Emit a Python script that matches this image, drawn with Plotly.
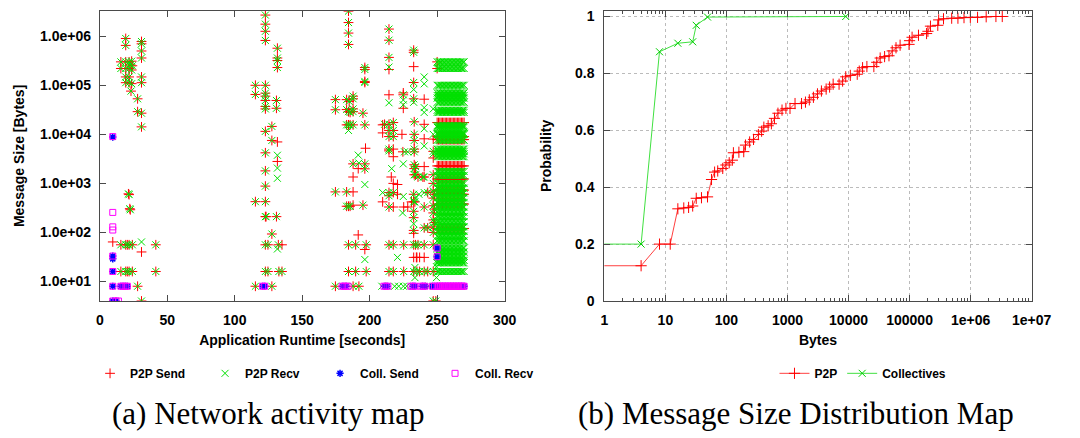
import math
import plotly.graph_objects as go

# ---------------- data : (a) network activity map ----------------
# (time [s], message size [bytes]) pairs seen for both P2P send and P2P recv
p2p_common_points = [
    (19.2, 9.0e5), (19.2, 6.5e5), (30.9, 7.8e5), (30.9, 7.0e5), (30.9, 5.0e5), (30.9, 3.6e5),
    (15.6, 3.0e5), (19.2, 3.0e5), (21.7, 3.0e5), (23.6, 3.1e5), (22.5, 2.6e5), (24.1, 2.5e5),
    (15.6, 2.2e5), (19.2, 2.2e5), (21.7, 2.2e5), (23.6, 2.05e5),
    (19.2, 1.48e5), (21.7, 1.48e5), (30.9, 1.48e5), (19.2, 1.13e5), (21.7, 1.13e5), (23.6, 1.08e5),
    (30.9, 1.13e5), (23.1, 7.6e4), (28.0, 5.3e4), (28.0, 2.9e4), (30.9, 2.7e4), (30.9, 1.42e4),
    (21.2, 612), (21.7, 590), (22.2, 305), (22.6, 290),
    (15.6, 56), (19.2, 56), (20.4, 56), (21.7, 56), (24.1, 56), (41.5, 56),
    (15.6, 16), (19.2, 16), (20.4, 16), (21.7, 16), (24.1, 16), (41.5, 16),
    (28.0, 8), (30.9, 4),
    (122.7, 2.7e6), (122.7, 1.76e6), (122.7, 1.26e6), (122.7, 8.2e5), (131.6, 5.7e5), (131.6, 3.6e5),
    (131.6, 3.2e5), (131.6, 2.3e5), (115.3, 1.0e5), (115.3, 6.5e4), (122.7, 1.0e5), (122.7, 6.9e4),
    (122.7, 6.0e4), (122.7, 4.9e4), (122.7, 3.7e4), (122.7, 3.3e4), (130.9, 4.9e4), (130.9, 3.4e4),
    (127.5, 1.45e4), (122.7, 1.15e4), (127.5, 7.5e3), (122.7, 4.2e3), (122.7, 1.8e3), (122.7, 880),
    (115.3, 424), (122.7, 424), (122.7, 210), (123.2, 210), (130.9, 210), (127.5, 93),
    (122.7, 56), (124.6, 56), (132.3, 56), (122.7, 16), (124.6, 16), (132.7, 16), (135.0, 16),
    (115.3, 8), (127.5, 8),
    (184.3, 3.25e6), (184.3, 1.9e6), (184.3, 1.16e6), (184.3, 6.8e5), (196.4, 2.1e5), (196.4, 2.3e5),
    (196.4, 1.14e5), (196.4, 1.2e5), (174.6, 5.1e4), (174.6, 3.17e4), (182.9, 5.1e4), (184.8, 4.7e4),
    (187.7, 6.0e4), (187.7, 5.3e4), (182.9, 3.2e4), (184.3, 2.9e4), (185.5, 2.8e4), (187.7, 3.3e4),
    (187.7, 2.9e4), (182.9, 1.56e4), (184.3, 1.56e4), (185.5, 1.56e4), (187.7, 1.56e4), (195.0, 2.7e4),
    (196.4, 1.56e4), (187.7, 2.5e3), (196.4, 2.5e3), (196.4, 1.98e3), (174.6, 671), (182.9, 671),
    (182.9, 342), (184.3, 342), (185.5, 342), (195.0, 360),
    (184.3, 56), (189.6, 56), (197.4, 56), (184.3, 16), (189.6, 16), (197.4, 16),
    (174.6, 8), (187.7, 8), (192.0, 8),
    (214.3, 1.4e6), (214.3, 8.3e5), (214.3, 3.7e5), (232.6, 4.7e5), (232.6, 5.2e5), (232.6, 1.14e5),
    (232.6, 5.3e4), (224.9, 6.4e4), (211.0, 1.6e4), (214.3, 1.6e4), (214.3, 1.2e4), (214.3, 9e3),
    (214.3, 5e3), (214.3, 4.6e3), (217.5, 1.74e4), (217.5, 1.2e4), (217.5, 9e3),
    (233.0, 1.8e4), (233.0, 1.0e4), (233.0, 7.5e3), (233.0, 5e3), (233.0, 4.4e3), (233.0, 2.4e3),
    (233.0, 2.0e3), (233.0, 1.5e3), (234.0, 1.5e3), (234.0, 2.2e3),
    (214.3, 650), (217.5, 650), (214.3, 560), (214.3, 330), (232.6, 600), (232.6, 420), (233.5, 420),
    (232.6, 270), (232.6, 200), (232.6, 110), (235.8, 1.35e3), (239.4, 1.35e3), (240.4, 1.35e3),
    (240.4, 330), (240.4, 124), (243.0, 124), (243.0, 650),
    (247.1, 4.5e3), (247.1, 1.5e3), (247.1, 1e3), (247.1, 700), (247.1, 500), (247.1, 350),
    (247.1, 250), (247.1, 180), (247.1, 130), (247.1, 100), (248.0, 600), (248.0, 300), (248.0, 160),
    (214.3, 56), (217.5, 56), (225.2, 56), (232.6, 56), (234.0, 56), (235.8, 56), (240.4, 56), (247.1, 56),
    (214.3, 16), (217.5, 16), (225.2, 16), (232.6, 16), (235.0, 16), (237.0, 16), (240.4, 16),
    (243.0, 16), (247.1, 16), (247.1, 4), (249.0, 4),
]

p2p_send_only_points = [
    (9.6, 64), (30.9, 40), (131.6, 7.0e3), (131.6, 2.8e3), (135.0, 56),
    (196.9, 5.2e3), (191.5, 2.0e3), (187.7, 1.35e3), (187.7, 671), (187.7, 360), (191.5, 89), (196.4, 45),
    (214.3, 2.1e5), (214.3, 6.4e4), (224.9, 3.4e4), (224.9, 7.0e4), (232.6, 2.4e5), (209.6, 1.56e4),
    (209.6, 1.07e4), (217.5, 3.5e3), (217.5, 5e3), (223.9, 1.0e4), (224.6, 4.4e3), (216.0, 1.35e3),
    (217.5, 1e3), (220.6, 950), (209.6, 420), (217.5, 330), (220.6, 600), (225.2, 330), (228.2, 330),
    (232.6, 96), (232.6, 31), (235.0, 31), (240.4, 5.2e4), (240.4, 1.6e4), (240.4, 8.1e3),
    (247.1, 8e3), (247.1, 3.3e3), (240.4, 2.2e3), (231.0, 420), (234.6, 31), (237.0, 31), (240.4, 31),
    (250.0, 3.0e5), (250.0, 2.2e5),
]

p2p_recv_only_points = [
    (30.9, 64), (131.6, 3.75e3), (131.6, 2.05e3), (131.6, 1.27e3), (131.6, 46),
    (184.3, 1.2e4), (191.5, 3.77e3), (196.4, 950), (196.4, 28), (192.0, 2.6e3),
    (214.3, 2.35e5), (214.3, 4.4e4), (224.9, 5.0e4), (224.9, 4.0e4), (232.6, 8.2e4), (232.6, 4.5e4),
    (224.9, 2.5e3), (225.8, 4.4e3), (228.2, 4.4e3), (216.3, 2.0e3), (209.6, 650), (224.9, 540),
    (224.4, 250), (232.6, 150), (220.6, 31), (233.5, 19.3), (233.5, 12),
    (240.4, 1.48e5), (240.4, 1.07e5), (240.4, 3.5e4), (240.4, 2.8e4), (240.4, 1.3e4), (240.4, 5.8e3),
    (247.1, 3.3e4), (247.1, 1.0e4), (247.1, 4e3), (240.4, 650), (236.5, 600), (234.0, 500),
    (249.5, 12), (249.5, 20), (250.0, 24),
    (209.0, 8), (218.5, 8), (221.5, 8), (225.0, 8), (227.5, 8), (244.0, 8), (247.5, 8),
]

# dense block at the end of the run (every time step x every size row)
band_times = [250, 251, 252, 253, 254, 255, 256, 257, 258, 259, 260,
              261, 262, 263, 264, 265, 266, 267, 268, 269, 270]
band_recv_sizes = [300000, 220000, 100000, 70000, 62000, 55000, 45000, 31000, 28000, 15000, 14000,
                   10500, 10000, 7600, 5000, 4500, 4000, 3500, 1750, 1450,
                   1000, 800, 640, 510, 410, 330, 260, 210, 165, 130, 105, 84, 67,
                   48, 40, 33, 27, 24, 16]
band_send_sizes = [17400, 9000, 7800, 2270, 1230, 730, 600, 380, 120]
band_coll_size = 8
band_coll_send_times = [250, 252, 254, 256, 258, 260, 262, 264, 266, 268, 270]

coll_send_points = [
    (9.6, 8.8e3), (9.6, 33), (9.6, 29), (9.6, 16), (9.6, 8), (9.6, 4), (12.0, 4),
    (15.6, 8), (17.2, 8), (18.8, 8), (20.4, 8), (120.7, 8), (122.2, 8),
    (180.0, 8), (182.5, 8), (211.0, 8), (213.0, 8), (232.0, 8), (233.5, 8),
    (239.0, 8), (241.0, 8), (246.5, 8), (248.0, 8), (250.0, 48), (250.0, 32),
]
coll_recv_points = [
    (9.6, 9.0e3), (9.6, 256), (9.6, 130), (9.6, 112), (9.6, 33), (9.6, 16), (9.6, 8), (9.6, 4),
    (12.0, 4), (13.8, 4), (15.6, 8), (17.2, 8), (18.8, 8), (20.4, 8), (120.7, 8), (122.2, 8),
    (179.5, 8), (181.0, 8), (182.5, 8), (184.0, 8), (210.5, 8), (212.0, 8), (213.5, 8),
    (230.5, 8), (232.0, 8), (233.5, 8), (238.0, 8), (239.5, 8), (241.0, 8), (246.5, 8), (248.0, 8),
    (250.0, 48), (250.0, 32),
]

size_tickvals = [1e1, 1e2, 1e3, 1e4, 1e5, 1e6]
size_ticktext = ["1.0e+01", "1.0e+02", "1.0e+03", "1.0e+04", "1.0e+05", "1.0e+06"]

# ---------------- data : (b) message size distribution ----------------
p2p_cdf_bytes = [0.5, 4, 8, 12, 16, 20, 24, 28, 32, 39, 49, 57, 64, 72, 87, 98, 111, 125, 130, 160,
                 192, 205, 240, 278, 334, 377, 410, 482, 545, 612, 698, 814, 943, 1100, 1330, 1700,
                 1970, 2280, 2660, 3100, 3600, 4300, 4900, 5600, 7000, 8000, 9000, 10700, 13900,
                 15000, 17000, 20000, 26000, 29000, 33000, 39000, 46000, 52000, 60000, 70000,
                 98000, 100000, 110000, 140000, 190000, 200000, 220000, 290000, 300000, 360000,
                 490000, 620000, 780000, 990000, 1300000, 1800000, 2600000, 3300000]
p2p_cdf_prob = [0.124, 0.124, 0.2, 0.2, 0.324, 0.327, 0.329, 0.334, 0.361, 0.363, 0.366, 0.427,
                0.453, 0.457, 0.466, 0.478, 0.486, 0.495, 0.521, 0.523, 0.525, 0.548, 0.559, 0.568,
                0.585, 0.597, 0.611, 0.616, 0.623, 0.642, 0.660, 0.671, 0.677, 0.677, 0.694, 0.694,
                0.699, 0.707, 0.716, 0.728, 0.738, 0.745, 0.752, 0.762, 0.762, 0.773, 0.788, 0.793,
                0.797, 0.808, 0.820, 0.824, 0.824, 0.839, 0.854, 0.859, 0.862, 0.879, 0.890, 0.899,
                0.902, 0.915, 0.927, 0.934, 0.940, 0.948, 0.966, 0.969, 0.988, 0.992, 0.994, 0.994,
                0.996, 0.997, 0.997, 0.999, 1.0, 1.0]
coll_cdf_bytes = [0.5, 4, 8, 16, 28, 32, 49, 9000]
coll_cdf_prob = [0.2, 0.2, 0.876, 0.906, 0.911, 0.969, 0.998, 1.0]

bytes_tickvals = [1, 10, 100, 1000, 10000, 100000, 1e6, 1e7]
bytes_ticktext = ["1", "10", "100", "1000", "10000", "100000", "1e+06", "1e+07"]
prob_tickvals = [0, 0.2, 0.4, 0.6, 0.8, 1.0]
prob_ticktext = ["0", "0.2", "0.4", "0.6", "0.8", "1"]

# ---------------- build ----------------
def col(points, i):
    return [p[i] for p in points]

band_recv = [(t, s) for s in band_recv_sizes for t in band_times]
band_send = [(t, s) for s in band_send_sizes for t in band_times]
p2p_send = p2p_common_points + p2p_send_only_points + band_send
p2p_recv = p2p_common_points + p2p_recv_only_points + band_recv
coll_send = coll_send_points + [(t, band_coll_size) for t in band_coll_send_times]
coll_recv = coll_recv_points + [(t, band_coll_size) for t in band_times]

# minor tick positions for the log byte axis (2..9 within each decade)
minor_bytes_ticks = [m * d for d in bytes_tickvals[:-1] for m in range(2, 10)]

SANS = "Liberation Sans"
FRAME = "#4a4a4a"
RED, GREEN, BLUE, MAGENTA = "#ff0000", "#00e000", "#0000ff", "#ff00ff"
tickfont = dict(family=SANS, size=14, color="black", weight="bold")
titlefont = dict(family=SANS, size=14, color="black", weight="bold")

fig = go.Figure()

fig.add_trace(go.Scatter(x=col(p2p_send, 0), y=col(p2p_send, 1), mode="markers", name="P2P Send",
                         marker=dict(symbol="cross-thin-open", size=7, color=RED, line=dict(color=RED, width=1)),
                         xaxis="x", yaxis="y", legend="legend"))
fig.add_trace(go.Scatter(x=col(p2p_recv, 0), y=col(p2p_recv, 1), mode="markers", name="P2P Recv",
                         marker=dict(symbol="x-thin-open", size=7, color=GREEN, line=dict(color=GREEN, width=1)),
                         xaxis="x", yaxis="y", legend="legend"))
fig.add_trace(go.Scatter(x=col(coll_send, 0), y=col(coll_send, 1), mode="markers", name="Coll. Send",
                         marker=dict(symbol="asterisk-open", size=6, color=BLUE, line=dict(color=BLUE, width=1.5)),
                         xaxis="x", yaxis="y", legend="legend"))
fig.add_trace(go.Scatter(x=col(coll_recv, 0), y=col(coll_recv, 1), mode="markers", name="Coll. Recv",
                         marker=dict(symbol="square-open", size=6, color=MAGENTA, line=dict(color=MAGENTA, width=1)),
                         xaxis="x", yaxis="y", legend="legend"))

fig.add_trace(go.Scatter(x=p2p_cdf_bytes, y=p2p_cdf_prob, mode="lines+markers", name="P2P",
                         line=dict(color="#ff4040", width=1),
                         marker=dict(symbol="cross-thin-open", size=8, color=RED, line=dict(color=RED, width=1)),
                         xaxis="x2", yaxis="y2", legend="legend2"))
fig.add_trace(go.Scatter(x=coll_cdf_bytes, y=coll_cdf_prob, mode="lines+markers", name="Collectives",
                         line=dict(color="#40e040", width=1),
                         marker=dict(symbol="x-thin-open", size=7, color="#00d000", line=dict(color="#00d000", width=1)),
                         xaxis="x2", yaxis="y2", legend="legend2"))

W, H = 1080, 438
def px_x(p):
    return p / W
def px_y(p):
    return 1 - p / H

common_axis = dict(showline=True, linecolor=FRAME, linewidth=1, mirror="ticks", ticks="inside",
                   ticklen=6, tickcolor=FRAME, tickwidth=1, tickfont=tickfont, zeroline=False)

fig.update_layout(
    width=W, height=H, margin=dict(l=0, r=0, t=0, b=0),
    paper_bgcolor="white", plot_bgcolor="white",
    xaxis=dict(domain=[px_x(98), px_x(512)], anchor="y", range=[0, 300], dtick=50, tick0=0,
               showgrid=False, ticklabelstandoff=6,
               title=dict(text="Application Runtime [seconds]", font=titlefont, standoff=8),
               **common_axis),
    yaxis=dict(domain=[px_y(306), px_y(9)], anchor="x", type="log",
               range=[math.log10(4), math.log10(3.3e6)], tickmode="array",
               tickvals=size_tickvals, ticktext=size_ticktext, showgrid=False, ticklabelstandoff=5,
               title=dict(text="Message Size [Bytes]", font=titlefont, standoff=12),
               **common_axis),
    xaxis2=dict(domain=[px_x(614), px_x(1051)], anchor="y2", type="log", range=[0, 7],
                tickmode="array", tickvals=bytes_tickvals, ticktext=bytes_ticktext,
                showgrid=True, gridcolor="#bbbbbb", griddash="dot", gridwidth=1, ticklabelstandoff=6,
                minor=dict(tickmode="array", tickvals=minor_bytes_ticks, ticks="inside", ticklen=3,
                           tickcolor=FRAME, tickwidth=1, showgrid=False),
                title=dict(text="Bytes", font=titlefont, standoff=8),
                **common_axis),
    yaxis2=dict(domain=[px_y(306), px_y(9)], anchor="x2", range=[0, 1.02], tickmode="array",
                tickvals=prob_tickvals, ticktext=prob_ticktext,
                showgrid=True, gridcolor="#bbbbbb", griddash="dot", gridwidth=1, ticklabelstandoff=6,
                title=dict(text="Probability", font=titlefont, standoff=20),
                **common_axis),
    legend=dict(orientation="h", x=px_x(88), xanchor="left", y=px_y(380), yanchor="middle",
                font=dict(family=SANS, size=12, color="black", weight="bold"),
                bgcolor="rgba(0,0,0,0)", entrywidth=70, entrywidthmode="pixels"),
    legend2=dict(orientation="h", x=px_x(788), xanchor="left", y=px_y(380), yanchor="middle",
                 font=dict(family=SANS, size=12, color="black", weight="bold"),
                 bgcolor="rgba(0,0,0,0)"),
    annotations=[
        dict(text="(a) Network activity map", x=px_x(270), y=px_y(421), xref="paper", yref="paper",
             showarrow=False, xanchor="center", yanchor="middle",
             font=dict(family="Liberation Serif", size=31, color="black")),
        dict(text="(b) Message Size Distribution Map", x=px_x(810), y=px_y(421), xref="paper",
             yref="paper", showarrow=False, xanchor="center", yanchor="middle",
             font=dict(family="Liberation Serif", size=31, color="black")),
    ],
)

fig.write_html("out.html")
